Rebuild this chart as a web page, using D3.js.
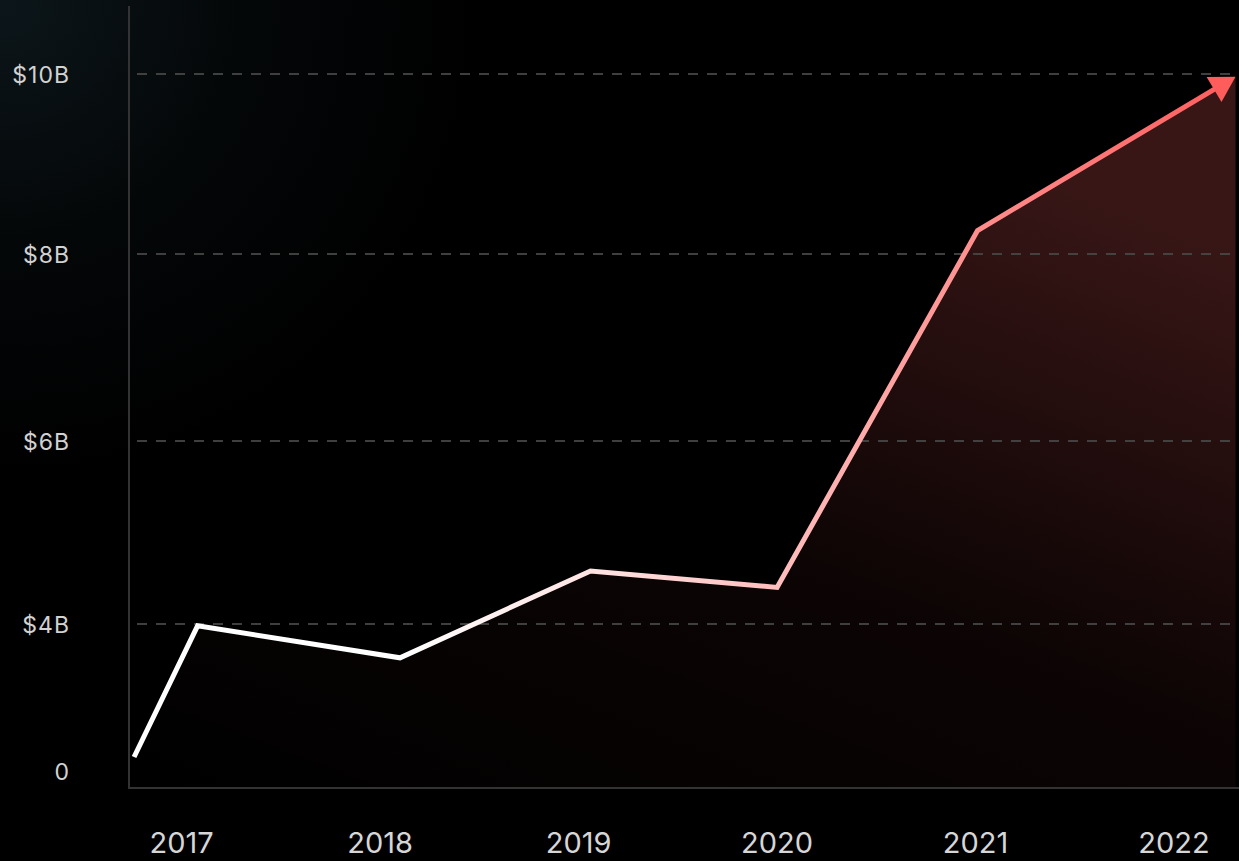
<!DOCTYPE html>
<html>
<head>
<meta charset="utf-8">
<script src="https://cdn.jsdelivr.net/npm/d3@7"></script>
<style>
  html, body { margin: 0; padding: 0; background: #000; overflow: hidden; }
  svg { display: block; }
</style>
</head>
<body>
<div id="chart"></div>
<script>
// data (x = fractional year, y = revenue in $B)
const pointYears = [2016.76, 2017.08, 2018.10, 2019.06, 2020.00, 2021.01, 2022.31];
const revenueB = [0.38, 3.95, 3.08, 4.58, 4.40, 8.26, 9.97];
const yearTicks = [2017, 2018, 2019, 2020, 2021, 2022];
const valueTicks = [0, 4, 6, 8, 10];
const gridValues = [4, 6, 8, 10];

const width = 1239;
const height = 861;
const axisX = 129;
const axisBottom = 788;

const svg = d3.select('#chart').append('svg')
  .attr('width', width)
  .attr('height', height);

const defs = svg.append('defs');

// background glow top-left
const bg = defs.append('radialGradient')
  .attr('id', 'bgGlow')
  .attr('gradientUnits', 'userSpaceOnUse')
  .attr('cx', 0).attr('cy', 0).attr('r', 800);
bg.append('stop').attr('offset', 0).attr('stop-color', '#0c161a');
bg.append('stop').attr('offset', 0.3).attr('stop-color', '#040708');
bg.append('stop').attr('offset', 0.6).attr('stop-color', '#000');

svg.append('rect')
  .attr('width', width)
  .attr('height', height)
  .attr('fill', 'url(#bgGlow)');

// scales
const x = d3.scaleLinear()
  .domain([2017, 2022])
  .range([181.7, 1174]);

// the axis squeezes the 0..4 span at the bottom
const y = d3.scaleLinear()
  .domain([0, 4, 6, 8, 10])
  .range([771, 624, 441, 254, 74]);

const pts = pointYears.map((yr, i) => [x(yr), y(revenueB[i])]);

// area gradient, darkest bottom-left, brightest top-right
const areaGrad = defs.append('linearGradient')
  .attr('id', 'areaGrad')
  .attr('x1', 0).attr('y1', 1)
  .attr('x2', 0.6).attr('y2', 0);
areaGrad.append('stop').attr('offset', 0).attr('stop-color', '#ff5a5a').attr('stop-opacity', 0);
areaGrad.append('stop').attr('offset', 0.5).attr('stop-color', '#ff5a5a').attr('stop-opacity', 0.05);
areaGrad.append('stop').attr('offset', 1).attr('stop-color', '#ff6464').attr('stop-opacity', 0.22);

const area = d3.area()
  .x(d => d[0])
  .y0(axisBottom)
  .y1(d => d[1]);

svg.append('path')
  .datum(pts)
  .attr('d', area)
  .attr('fill', 'url(#areaGrad)');

// dashed grid
svg.append('g')
  .selectAll('line')
  .data(gridValues)
  .join('line')
  .attr('x1', 137)
  .attr('x2', width)
  .attr('y1', d => y(d))
  .attr('y2', d => y(d))
  .attr('stroke', '#4a4a4a')
  .attr('stroke-opacity', 0.85)
  .attr('stroke-width', 2)
  .attr('stroke-dasharray', '10 9');

// axes lines
svg.append('line')
  .attr('x1', axisX).attr('x2', axisX)
  .attr('y1', 6).attr('y2', axisBottom + 1)
  .attr('stroke', '#333')
  .attr('stroke-width', 2);
svg.append('line')
  .attr('x1', axisX).attr('x2', width)
  .attr('y1', axisBottom).attr('y2', axisBottom)
  .attr('stroke', '#333')
  .attr('stroke-width', 2);

// y labels
const fmt = v => v === 0 ? '0' : `$${v}B`;
svg.append('g')
  .selectAll('text')
  .data(valueTicks)
  .join('text')
  .attr('x', 70)
  .attr('y', d => y(d))
  .attr('dy', '0.38em')
  .attr('text-anchor', 'end')
  .attr('fill', '#d2d2d2')
  .style('font-family', 'Inter, "Noto Sans", sans-serif')
  .style('font-size', '23px')
  .style('letter-spacing', '1px')
  .text(fmt);

// x labels
svg.append('g')
  .selectAll('text')
  .data(yearTicks)
  .join('text')
  .attr('x', d => x(d))
  .attr('y', 853)
  .attr('text-anchor', 'middle')
  .attr('fill', '#d6d6d6')
  .style('font-family', 'Inter, "Noto Sans", sans-serif')
  .style('font-size', '29px')
  .text(d => d);

// line gradient white -> coral
const lineGrad = defs.append('linearGradient')
  .attr('id', 'lineGrad')
  .attr('gradientUnits', 'userSpaceOnUse')
  .attr('x1', pts[0][0]).attr('y1', 0)
  .attr('x2', pts[pts.length - 1][0]).attr('y2', 0);
lineGrad.append('stop').attr('offset', 0).attr('stop-color', '#ffffff');
lineGrad.append('stop').attr('offset', 0.24).attr('stop-color', '#ffffff');
lineGrad.append('stop').attr('offset', 0.42).attr('stop-color', '#ffe2e2');
lineGrad.append('stop').attr('offset', 0.6).attr('stop-color', '#ffbaba');
lineGrad.append('stop').attr('offset', 0.78).attr('stop-color', '#ff8a8a');
lineGrad.append('stop').attr('offset', 1).attr('stop-color', '#ff5c5c');

// stop the stroke short of the tip, the arrow head covers the rest
const arrowLen = 25;
const arrowHalf = 14.5;
const tip = pts[pts.length - 1];
const prev = pts[pts.length - 2];
const ang = Math.atan2(tip[1] - prev[1], tip[0] - prev[0]);
const linePts = pts.slice(0, -1).concat([[tip[0] - Math.cos(ang) * (arrowLen - 4), tip[1] - Math.sin(ang) * (arrowLen - 4)]]);

svg.append('path')
  .datum(linePts)
  .attr('d', d3.line())
  .attr('fill', 'none')
  .attr('stroke', 'url(#lineGrad)')
  .attr('stroke-width', 5)
  .attr('stroke-linejoin', 'miter');

svg.append('path')
  .attr('d', `M0,0 L${-arrowLen},${-arrowHalf} L${-arrowLen},${arrowHalf} Z`)
  .attr('transform', `translate(${tip[0]},${tip[1]}) rotate(${ang * 180 / Math.PI})`)
  .attr('fill', '#ff5c5c');
</script>
</body>
</html>
